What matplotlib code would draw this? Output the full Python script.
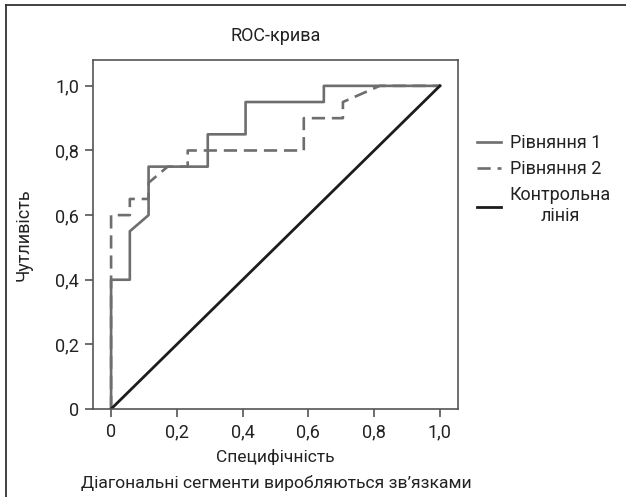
import matplotlib
matplotlib.use("Agg")
import matplotlib.pyplot as plt
from matplotlib.lines import Line2D

plt.rcParams['font.family'] = ['Roboto', 'DejaVu Sans']

# Data
eq1_x = [0.0, 0.0, 0.057, 0.057, 0.114, 0.114, 0.294, 0.294, 0.409, 0.409, 0.647, 0.647, 1.0]
eq1_y = [0.0, 0.40, 0.40, 0.55, 0.60, 0.75, 0.75, 0.85, 0.85, 0.95, 0.95, 1.0, 1.0]
eq2_x = [0.0, 0.0, 0.057, 0.057, 0.114, 0.114, 0.172, 0.233, 0.233, 0.586, 0.586, 0.705, 0.705, 0.817, 1.0]
eq2_y = [0.0, 0.60, 0.60, 0.65, 0.65, 0.70, 0.75, 0.75, 0.80, 0.80, 0.90, 0.90, 0.95, 1.0, 1.0]
ref_x = [0.0, 1.0]
ref_y = [0.0, 1.0]
ticks = [0, 0.2, 0.4, 0.6, 0.8, 1.0]
tick_labels = ["0", "0,2", "0,4", "0,6", "0,8", "1,0"]
series_labels = ["Рівняння 1", "Рівняння 2", "Контрольна\nлінія"]

W, H = 626, 497
fig = plt.figure(figsize=(W / 100, H / 100), dpi=100)
ax = fig.add_axes([93 / W, 1 - 409 / H, (458 - 93) / W, (409 - 60) / H])

gray = "#6e6e6e"
l1, = ax.plot(eq1_x, eq1_y, color=gray, lw=1.9, label=series_labels[0])
l2, = ax.plot(eq2_x, eq2_y, color=gray, lw=1.9, ls=(0, (5, 2.6)), label=series_labels[1])
l3, = ax.plot(ref_x, ref_y, color="#1c1c1c", lw=2.0, label=series_labels[2])

ax.set_xlim(-0.055, 1.055)
ax.set_ylim(0, 1.08)
ax.set_xticks(ticks)
ax.set_xticklabels(tick_labels)
ax.set_yticks(ticks)
ax.set_yticklabels(tick_labels)
ax.tick_params(axis='both', direction='out', length=6, width=1.2, color="#555555",
               labelsize=13, labelcolor="#222222", pad=4)
for s in ax.spines.values():
    s.set_color("#555555")
    s.set_linewidth(1.2)

ax.set_title("ROC-крива", fontsize=13, pad=14, color="#222222")
ax.set_xlabel("Специфічність", fontsize=12.5, labelpad=6, color="#222222")
ax.set_ylabel("Чутливість", fontsize=13, labelpad=16, color="#222222")

fig.text(276 / W, 1 - 483 / H, "Діагональні сегменти виробляються зв’язками",
         ha='center', va='center', fontsize=12.6, color="#222222")

leg = fig.legend(handles=[l1, l2, l3], loc='upper left', bbox_to_anchor=(461 / W, 1 - 118 / H),
                 frameon=False, fontsize=13, handlelength=1.3, handletextpad=0.5,
                 labelspacing=0.45, alignment='left')
for t in leg.get_texts():
    t.set_color("#222222")
    t.set_multialignment('center')

# outer frame (left and top)
fig.add_artist(Line2D([6 / W, 6 / W], [0, 1 - 5 / H], color="#333333", lw=1.3))
fig.add_artist(Line2D([6 / W, 1], [1 - 5 / H, 1 - 5 / H], color="#333333", lw=1.3))

fig.savefig("out.png", dpi=100)
